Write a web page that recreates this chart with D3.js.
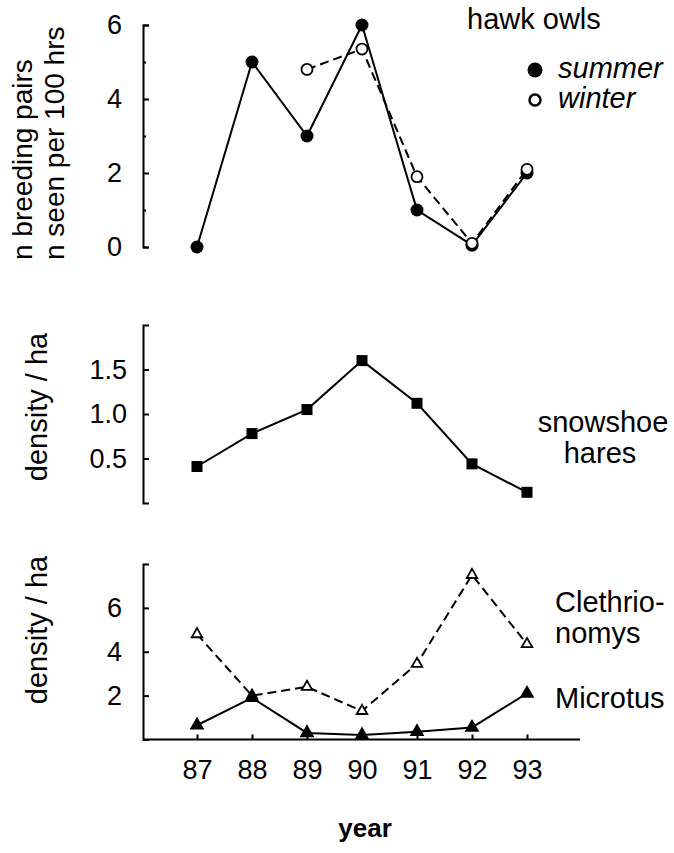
<!DOCTYPE html>
<html>
<head>
<meta charset="utf-8">
<script src="https://cdn.jsdelivr.net/npm/d3@7"></script>
<style>
  body { margin: 0; background: #fff; }
  svg text { font-family: "Liberation Sans", Arial, Helvetica, sans-serif; fill: #000; }
  .axis path, .axis line { stroke: #000; stroke-width: 2; }
  .axis text { font-size: 27px; }
  .lbl { font-size: 29px; }
</style>
</head>
<body>
<div class="chart"></div>
<script>
// data
const years = [87, 88, 89, 90, 91, 92, 93];
const owlSummer = [0, 5, 3, 6, 1, 0.05, 2];
const owlWinter = [null, null, 4.8, 5.35, 1.9, 0.1, 2.1];
const hares = [0.41, 0.78, 1.05, 1.6, 1.12, 0.44, 0.12];
const clethrionomys = [4.8, 2.0, 2.4, 1.3, 3.45, 7.5, 4.35];
const microtus = [0.65, 1.9, 0.3, 0.2, 0.35, 0.55, 2.1];

const owlTicks = [0, 2, 4, 6];
const owlMinorTicks = [1, 3, 5];
const hareTicks = [0.5, 1.0, 1.5];
const voleTicks = [2, 4, 6];

const svg_width = 674, svg_height = 853;
const axisX = 143;

const svg = d3.select('.chart').append('svg')
  .attr('width', svg_width).attr('height', svg_height);

const x = d3.scaleLinear().domain([87, 93]).range([197, 527]);

// y scales, one per panel
const yOwl = d3.scaleLinear().domain([0, 6]).range([247, 25]);
const yHare = d3.scaleLinear().domain([0, 2]).range([503, 325]);
const yVole = d3.scaleLinear().domain([0, 8]).range([739.5, 564]);

function series(vals) {
  return years.map((yr, i) => ({yr, v: vals[i]})).filter(d => d.v != null);
}

function drawLine(y, data, dashed) {
  const line = d3.line().x(d => x(d.yr)).y(d => y(d.v));
  svg.append('path')
    .datum(data)
    .attr('d', line)
    .attr('fill', 'none')
    .attr('stroke', '#000')
    .attr('stroke-width', 2)
    .attr('stroke-dasharray', dashed ? '9,5' : null);
}

// ---- top panel: hawk owls
const owlAxis = d3.axisLeft(yOwl).tickValues(owlTicks)
  .tickFormat(d3.format('d'))
  .tickSizeInner(-6).tickSizeOuter(-6).tickPadding(21);
svg.append('g').attr('class', 'axis')
  .attr('transform', `translate(${axisX},0)`)
  .call(owlAxis);
const owlMinor = d3.axisLeft(yOwl).tickValues(owlMinorTicks).tickSize(-3).tickFormat('');
svg.append('g').attr('class', 'axis')
  .attr('transform', `translate(${axisX},0)`)
  .call(owlMinor)
  .call(g => g.select('.domain').remove());

const sumData = series(owlSummer), winData = series(owlWinter);
drawLine(yOwl, sumData, false);
drawLine(yOwl, winData, true);

svg.append('g').selectAll('circle')
  .data(sumData).enter().append('circle')
  .attr('cx', d => x(d.yr)).attr('cy', d => yOwl(d.v))
  .attr('r', 6.5).attr('fill', '#000');
svg.append('g').selectAll('circle')
  .data(winData).enter().append('circle')
  .attr('cx', d => x(d.yr)).attr('cy', d => yOwl(d.v))
  .attr('r', 5.5).attr('fill', '#fff').attr('stroke', '#000').attr('stroke-width', 1.8);

svg.append('text').attr('class', 'lbl').attr('x', 467).attr('y', 29).text('hawk owls');
svg.append('circle').attr('cx', 535).attr('cy', 70).attr('r', 7.5).attr('fill', '#000');
svg.append('circle').attr('cx', 535).attr('cy', 100).attr('r', 5.5)
  .attr('fill', '#fff').attr('stroke', '#000').attr('stroke-width', 2.5);
svg.append('text').attr('class', 'lbl').attr('x', 558).attr('y', 78)
  .style('font-style', 'italic').text('summer');
svg.append('text').attr('class', 'lbl').attr('x', 558).attr('y', 108)
  .style('font-style', 'italic').text('winter');

svg.append('text').attr('class', 'lbl').style('font-size', '28px')
  .attr('transform', 'translate(32,260) rotate(-90)').text('n breeding pairs');
svg.append('text').attr('class', 'lbl').style('font-size', '28px')
  .attr('transform', 'translate(64,260) rotate(-90)').text('n seen per 100 hrs');

// ---- middle panel: snowshoe hares
const hareAxis = d3.axisLeft(yHare).tickValues(hareTicks)
  .tickFormat(d3.format('.1f'))
  .tickSizeInner(-6).tickSizeOuter(-6).tickPadding(16);
svg.append('g').attr('class', 'axis')
  .attr('transform', `translate(${axisX},0)`)
  .call(hareAxis);

const hareData = series(hares);
drawLine(yHare, hareData, false);
svg.append('g').selectAll('rect')
  .data(hareData).enter().append('rect')
  .attr('x', d => x(d.yr) - 5.5).attr('y', d => yHare(d.v) - 5.5)
  .attr('width', 11).attr('height', 11).attr('fill', '#000');

svg.append('text').attr('class', 'lbl').attr('x', 603).attr('y', 432)
  .attr('text-anchor', 'middle').text('snowshoe');
svg.append('text').attr('class', 'lbl').attr('x', 600).attr('y', 463)
  .attr('text-anchor', 'middle').text('hares');
svg.append('text').attr('class', 'lbl')
  .attr('transform', 'translate(47,407) rotate(-90)')
  .attr('text-anchor', 'middle').text('density / ha');

// ---- bottom panel: voles
const voleAxis = d3.axisLeft(yVole).tickValues(voleTicks)
  .tickSizeInner(-6).tickSizeOuter(-6).tickPadding(21);
svg.append('g').attr('class', 'axis')
  .attr('transform', `translate(${axisX},0)`)
  .call(voleAxis);

const xAxis = d3.axisBottom(x).tickValues(years)
  .tickFormat(d => d).tickSizeInner(-5).tickSizeOuter(0).tickPadding(20);
svg.append('g').attr('class', 'axis')
  .attr('transform', `translate(0,${yVole(0)})`)
  .call(xAxis)
  .call(g => g.select('.domain').remove());
svg.append('line')
  .attr('x1', axisX).attr('x2', x(93) + 53)
  .attr('y1', yVole(0)).attr('y2', yVole(0))
  .attr('stroke', '#000').attr('stroke-width', 2);

const clethData = series(clethrionomys), microData = series(microtus);
drawLine(yVole, clethData, true);
drawLine(yVole, microData, false);

const triBig = d3.symbol().type(d3.symbolTriangle).size(95);
const triSmall = d3.symbol().type(d3.symbolTriangle).size(48);
svg.append('g').selectAll('path')
  .data(clethData).enter().append('path')
  .attr('d', triSmall)
  .attr('transform', d => `translate(${x(d.yr)},${yVole(d.v)})`)
  .attr('fill', '#fff').attr('stroke', '#000').attr('stroke-width', 1.8);
svg.append('g').selectAll('path')
  .data(microData).enter().append('path')
  .attr('d', triBig)
  .attr('transform', d => `translate(${x(d.yr)},${yVole(d.v)})`)
  .attr('fill', '#000');

svg.append('text').attr('class', 'lbl').attr('x', 555).attr('y', 612).text('Clethrio-');
svg.append('text').attr('class', 'lbl').attr('x', 555).attr('y', 643).text('nomys');
svg.append('text').attr('class', 'lbl').attr('x', 555).attr('y', 708).text('Microtus');
svg.append('text').attr('class', 'lbl')
  .attr('transform', 'translate(47,630) rotate(-90)')
  .attr('text-anchor', 'middle').text('density / ha');

svg.append('text').attr('class', 'lbl').attr('x', 365).attr('y', 837)
  .attr('text-anchor', 'middle').style('font-weight', 'bold').style('font-size', '26px')
  .text('year');
</script>
</body>
</html>
